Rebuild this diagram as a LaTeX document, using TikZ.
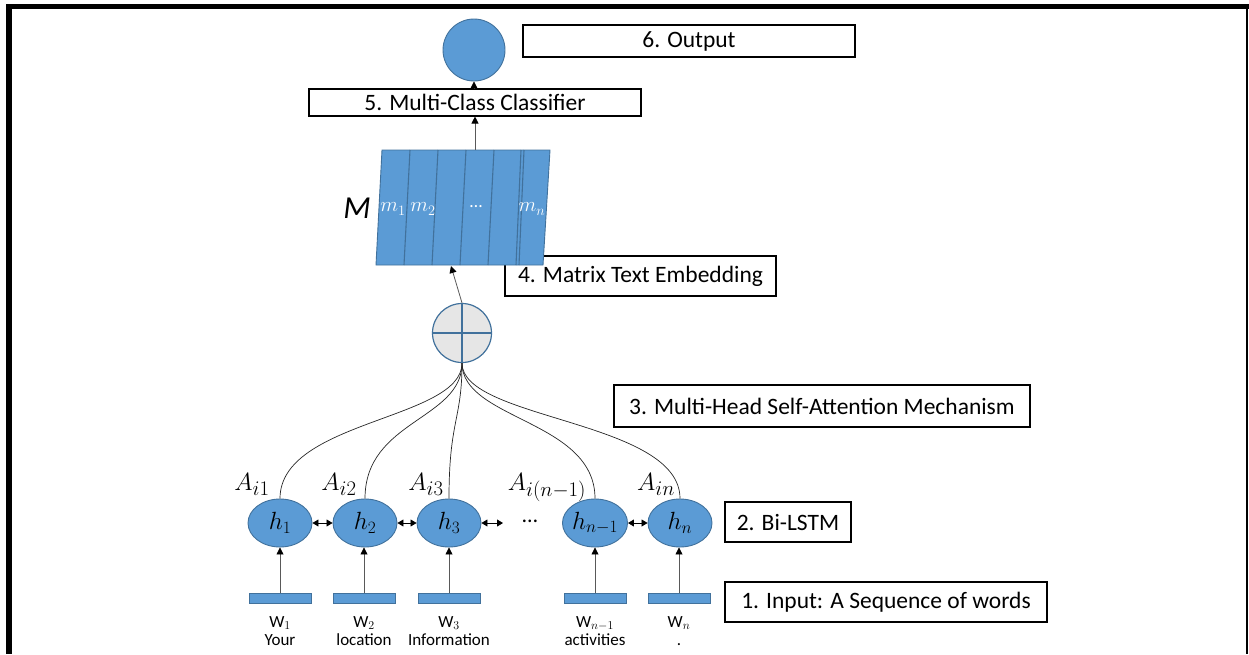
\documentclass[tikz,border=0pt]{standalone}
\usepackage{fontspec}
\setmainfont{Carlito}
\usetikzlibrary{arrows.meta,shapes.geometric}
\definecolor{obl}{HTML}{5B9BD5}
\definecolor{obd}{HTML}{41719C}
\definecolor{pgray}{HTML}{E6E6E6}
\definecolor{lgray}{HTML}{595959}
\begin{document}
\begin{tikzpicture}[x=1pt,y=-1pt,
  lbl/.style={draw=black, line width=1.1pt, fill=white, inner sep=0pt, font=\fontsize{23.5}{27}\selectfont},
  hnode/.style={ellipse, draw=obd, line width=0.9pt, fill=obl, minimum width=64pt, minimum height=48pt, inner sep=0pt, font=\fontsize{24}{28}\selectfont},
  wrect/.style={rectangle, draw=obd, line width=0.8pt, fill=obl, minimum width=62pt, minimum height=10pt, inner sep=0pt},
  wlab/.style={font=\fontsize{17}{18}\selectfont, inner sep=0pt, align=center},
  alab/.style={font=\fontsize{28}{30}\selectfont, inner sep=0pt, anchor=base},
  mlab/.style={text=white, font=\fontsize{22}{24}\selectfont, inner sep=0pt},
  arr/.style={-{Triangle[length=7pt,width=7pt,color=black]}, line width=0.8pt, draw=lgray},
  darr/.style={{Triangle[length=6pt,width=7pt]}-{Triangle[length=6pt,width=7pt]}, line width=0.8pt},
  att/.style={line width=0.7pt, draw=black!85}
]
\useasboundingbox (0,0) rectangle (1249,654);
% frame
\fill[black] (6,4) rectangle (1249,9);
\fill[black] (6,4) rectangle (12,654);
\fill[black] (1246,4) rectangle (1248,654);

% label boxes
\node[lbl, minimum width=332pt, minimum height=32pt] (b6) at (689,41) {6. Output};
\node[lbl, minimum width=332pt, minimum height=27pt] (clf) at (475,102.5) {5. Multi-Class Classifier};
\node[lbl, minimum width=271pt, minimum height=40pt] (b4) at (640.5,276) {4. Matrix Text Embedding};
\node[lbl, minimum width=416pt, minimum height=42pt] (b3) at (822,406) {3. Multi-Head Self-Attention Mechanism};
\node[lbl, minimum width=126pt, minimum height=40pt] (b2) at (788,522) {2. Bi-LSTM};
\node[lbl, minimum width=322pt, minimum height=40pt] (b1) at (886,602) {1. Input: A Sequence of words};

% output circle
\node[circle, draw=obd, line width=0.9pt, fill=obl, minimum size=62pt, inner sep=0pt] (out) at (474,50) {};

% matrix
\fill[obl] (382,150) -- (550,150) -- (543,265) -- (376,265) -- cycle;
\draw[obd, line width=0.9pt] (382,150) -- (550,150) -- (543,265) -- (376,265) -- cycle;
\foreach \t/\b in {410/404, 438/432, 466/460, 494/488, 521/516, 524/519}
  \draw[obd, line width=1.1pt] (\t,150) -- (\b,265);
\coordinate (mtop) at (475,150);
\coordinate (mbot) at (451,266);
\node[font=\fontsize{32}{34}\selectfont\itshape, inner sep=0pt] (Mlab) at (357,208) {M};
\node[mlab] (m1) at (393,209) {$m_1$};
\node[mlab] (m2) at (423,209) {$m_2$};
\node[mlab, font=\fontsize{18}{20}\selectfont] (mdots) at (476,207) {…};
\node[mlab] (mn) at (532,209) {$m_n$};

% plus circle
\node[circle, draw=obd, line width=1.2pt, fill=pgray, minimum size=59pt, inner sep=0pt] (plus) at (462,333) {};
\draw[obd, line width=1.2pt] (plus.north) -- (plus.south) (plus.west) -- (plus.east);

% arrows upward
\draw[arr] (plus.north) -- (mbot);
\draw[arr] (mtop) -- (mtop |- clf.south);
\draw[arr] (clf.north -| out.south) -- (out.south);

% Bi-LSTM nodes
\node[hnode] (h1) at (280,523) {$h_1$};
\node[hnode] (h2) at (365,523) {$h_2$};
\node[hnode] (h3) at (449,523) {$h_3$};
\node[font=\fontsize{22}{24}\selectfont, inner sep=0pt] (hdots) at (530,521) {…};
\node[hnode] (hn1) at (595,523) {$h_{n-1}$};
\node[hnode] (hn) at (680,523) {$h_n$};
\coordinate (h3r) at (503,523);
\draw[darr] (h1.east) -- (h2.west);
\draw[darr] (h2.east) -- (h3.west);
\draw[darr] (h3.east) -- (h3r);
\draw[darr] (hn1.east) -- (hn.west);

% attention curves
\foreach \h in {h1,h2,h3,hn1,hn}
  \draw[att] (plus.south) .. controls (462,420) and (\h.north |- 0,420) .. (\h.north);

% attention labels
\node[alab] (a1) at (252,490) {$A_{i1}$};
\node[alab] (a2) at (339,490) {$A_{i2}$};
\node[alab] (a3) at (426,490) {$A_{i3}$};
\node[alab] (an1) at (547,490) {$A_{i(n-1)}$};
\node[alab] (an) at (656,490) {$A_{in}$};

% word rectangles
\node[wrect] (w1) at (280,598) {};
\node[wrect] (w2) at (364,598) {};
\node[wrect] (w3) at (449,598) {};
\node[wrect] (wn1) at (595,598) {};
\node[wrect] (wn) at (679,598) {};
\foreach \w/\h in {w1/h1, w2/h2, w3/h3, wn1/hn1, wn/hn}
  \draw[arr] (\w.north) -- (\w.north |- \h.south);

% word labels
\node[wlab] (l1) at (280,631) {W$_1$\\Your};
\node[wlab] (l2) at (364,631) {W$_2$\\location};
\node[wlab] (l3) at (449,631) {W$_3$\\Information};
\node[wlab] (ln1) at (595,631) {W$_{n-1}$\\activities};
\node[wlab] (ln) at (679,631) {W$_n$\\.};
\end{tikzpicture}
\end{document}
